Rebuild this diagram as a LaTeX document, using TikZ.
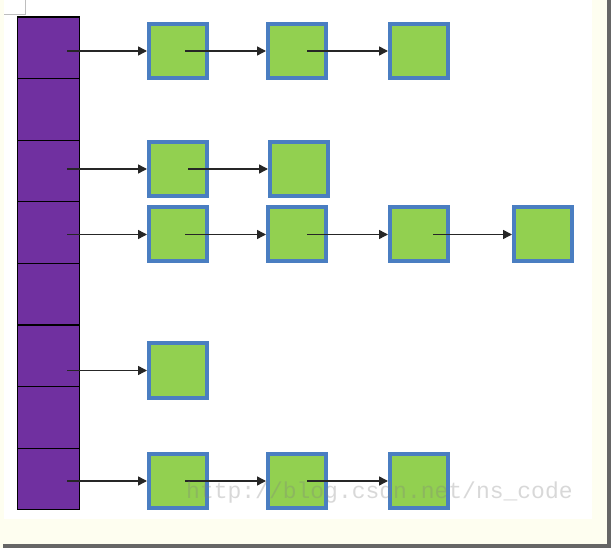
\documentclass[tikz,border=0pt]{standalone}
\usepackage{fontspec}
\newfontfamily\markfont{Liberation Mono}
\usepackage{xcolor}
\definecolor{hbpurple}{RGB}{112,48,160}
\definecolor{hbgreen}{RGB}{146,208,80}
\definecolor{hbblue}{RGB}{74,126,193}
\definecolor{hbcream}{RGB}{254,254,240}
\definecolor{hbgray}{RGB}{190,190,190}
\usetikzlibrary{arrows.meta,positioning}

\begin{document}
\begin{tikzpicture}[x=1pt,y=-1pt,
  cell/.style={draw=black,line width=1.3pt,fill=hbpurple,minimum width=62pt,minimum height=61.6pt,inner sep=0pt},
  item/.style={draw=hbblue,line width=4pt,fill=hbgreen,minimum width=58pt,minimum height=54pt,inner sep=0pt},
  edge/.style={-{Triangle[length=9pt,width=9pt]},line width=1.5pt,black!85}]
  % Frame
  \useasboundingbox (0,0) rectangle (611,548);
  \fill[hbcream] (0,0) rectangle (611,548);
  \fill[white] (4,0) rectangle (592,519);
  \fill[black!60] (607,0) rectangle (611,548);
  \fill[black!60] (3,544) rectangle (611,548);
  \draw[hbgray,line width=1pt] (4,15) -- (25,15) -- (25,0);
  % Bucket array
  \node[cell] (c1) at (48.5,47.8) {};
  \node[cell] (c2) at (48.5,109.4) {};
  \node[cell] (c3) at (48.5,171) {};
  \node[cell] (c4) at (48.5,232.6) {};
  \node[cell] (c5) at (48.5,294.2) {};
  \node[cell] (c6) at (48.5,355.8) {};
  \node[cell] (c7) at (48.5,417.4) {};
  \node[cell] (c8) at (48.5,479) {};
  % Chain of bucket 1
  \node[item] (q11) at (178,51) {};
  \node[item] (q12) at (297,51) {};
  \node[item] (q13) at (419,51) {};
  \draw[edge] ([xshift=-13pt]c1.east |- q11) -- (q11);
  \draw[edge] ([xshift=7pt]q11.center) -- (q12);
  \draw[edge] ([xshift=10pt]q12.center) -- (q13);
  % Chain of bucket 3
  \node[item] (q31) at (178,169) {};
  \node[item] (q32) at (299,169) {};
  \draw[edge] ([xshift=-13pt]c3.east |- q31) -- (q31);
  \draw[edge] ([xshift=10pt]q31.center) -- (q32);
  % Chain of bucket 4
  \node[item] (q41) at (178,234.5) {};
  \node[item] (q42) at (297,234.5) {};
  \node[item] (q43) at (419,234.5) {};
  \node[item] (q44) at (543,234.5) {};
  \draw[edge] ([xshift=-13pt]c4.east |- q41) -- (q41);
  \draw[edge] ([xshift=7pt]q41.center) -- (q42);
  \draw[edge] ([xshift=10pt]q42.center) -- (q43);
  \draw[edge] ([xshift=14pt]q43.center) -- (q44);
  % Chain of bucket 6
  \node[item] (q61) at (178,370.5) {};
  \draw[edge] ([xshift=-13pt]c6.east |- q61) -- (q61);
  % Chain of bucket 8
  \node[item] (q81) at (178,481) {};
  \node[item] (q82) at (297,481) {};
  \node[item] (q83) at (419,481) {};
  \draw[edge] ([xshift=-13pt]c8.east |- q81) -- (q81);
  \draw[edge] ([xshift=7pt]q81.center) -- (q82);
  \draw[edge] ([xshift=10pt]q82.center) -- (q83);
  % Watermark
  \node[anchor=base west,inner sep=0pt,text=gray,opacity=0.3,font=\markfont\fontsize{23}{23}\selectfont] (mark) at (186,498) {http://blog.csdn.net/ns\_code};
\end{tikzpicture}
\end{document}
